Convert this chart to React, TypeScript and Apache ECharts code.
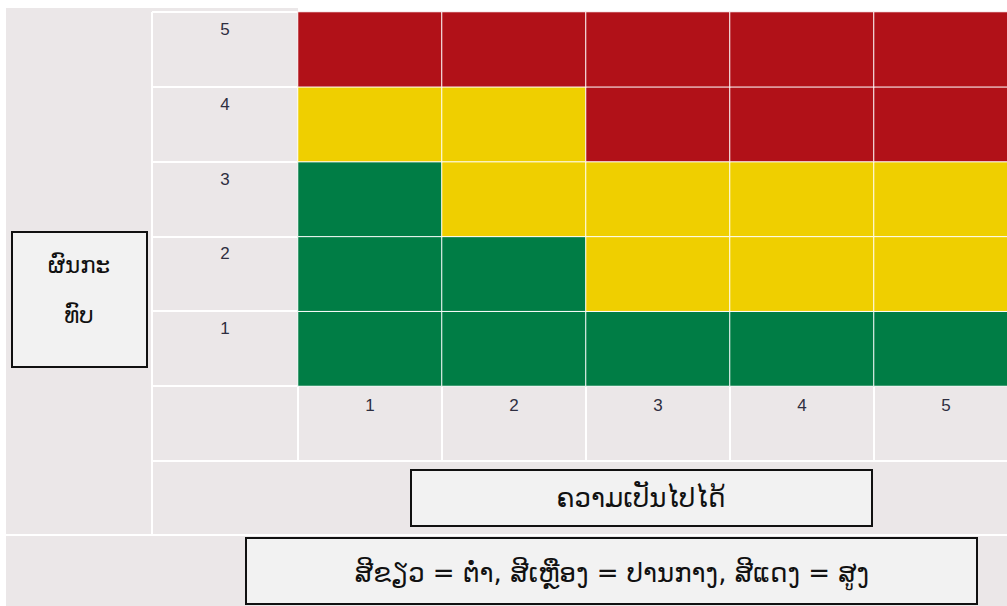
import React, { useEffect, useRef } from "react";
import * as echarts from "echarts";

const likelihoodLabels = ["1", "2", "3", "4", "5"];
const impactLabels = ["1", "2", "3", "4", "5"];
// risk level per impact row (index 0 = impact 1), per likelihood column; 0 low, 1 medium, 2 high
const riskRows: number[][] = [
  [0, 0, 0, 0, 0],
  [0, 0, 1, 1, 1],
  [0, 1, 1, 1, 1],
  [1, 1, 2, 2, 2],
  [2, 2, 2, 2, 2],
];
const levelColors = ["#007d45", "#efcf00", "#b11118"];
const yTitle = "ຜົນກະ\nທົບ";
const xTitle = "ຄວາມເປັນໄປໄດ້";
const legendText = "ສີຂຽວ = ຕ່ຳ, ສີເຫຼືອງ = ປານກາງ, ສີແດງ = ສູງ";

export default function App() {
  const ref = useRef<HTMLDivElement>(null);
  useEffect(() => {
    if (!ref.current) return;
    const chart = echarts.init(ref.current, null, { renderer: "svg" });
    const data: number[][] = [];
    riskRows.forEach((row, yi) => row.forEach((lv, xi) => data.push([xi, yi, lv])));
    const bg = "#ebe7e8";
    const white = "#ffffff";
    const lao = "DejaVu Sans";
    const digitFont = "Arial, Liberation Sans";
    chart.setOption({
      animation: false,
      graphic: [
        { type: "rect", z: -10, shape: { x: 6, y: 8, width: 292, height: 600 }, style: { fill: bg } },
        { type: "rect", z: -10, shape: { x: 298, y: 12, width: 730, height: 600 }, style: { fill: bg } },
        { type: "line", z: 5, shape: { x1: 152, y1: 12, x2: 152, y2: 535 }, style: { stroke: white, lineWidth: 2 } },
        { type: "line", z: 5, shape: { x1: 152, y1: 461, x2: 1025, y2: 461 }, style: { stroke: white, lineWidth: 2 } },
        { type: "line", z: 5, shape: { x1: 6, y1: 535, x2: 1025, y2: 535 }, style: { stroke: white, lineWidth: 2 } },
        {
          type: "rect", z: 10, shape: { x: 12, y: 232, width: 135, height: 135 },
          style: { fill: "#f2f2f2", stroke: "#111", lineWidth: 2 },
        },
        {
          type: "text", z: 11, x: 79, y: 290,
          style: { text: yTitle, fontFamily: lao, fontSize: 23, fill: "#111", align: "center", verticalAlign: "middle", lineHeight: 50 },
        },
        {
          type: "rect", z: 10, shape: { x: 411, y: 470, width: 461, height: 56 },
          style: { fill: "#f2f2f2", stroke: "#111", lineWidth: 2 },
        },
        {
          type: "text", z: 11, x: 641, y: 498,
          style: { text: xTitle, fontFamily: lao, fontSize: 26, fill: "#111", align: "center", verticalAlign: "middle" },
        },
        {
          type: "rect", z: 10, shape: { x: 246, y: 538, width: 731, height: 66 },
          style: { fill: "#f2f2f2", stroke: "#111", lineWidth: 2 },
        },
        {
          type: "text", z: 11, x: 612, y: 573,
          style: { text: legendText, fontFamily: lao, fontSize: 26, fill: "#111", align: "center", verticalAlign: "middle" },
        },
      ],
      grid: { left: 298, top: 12, right: 2, bottom: 220 },
      xAxis: {
        type: "category",
        data: likelihoodLabels,
        axisLine: { show: false },
        axisTick: { show: true, length: 75, lineStyle: { color: white, width: 2 } },
        axisLabel: { color: "#2e2e40", fontSize: 17, fontFamily: digitFont, margin: 11, verticalAlign: "top" },
        splitLine: { show: false },
      },
      yAxis: {
        type: "category",
        data: impactLabels,
        axisLine: { show: false },
        axisTick: { show: true, length: 146, lineStyle: { color: white, width: 2 } },
        axisLabel: {
          color: "#2e2e40", fontSize: 17, fontFamily: digitFont,
          margin: 73, align: "center", verticalAlign: "bottom", lineHeight: 40,
        },
        splitLine: { show: false },
      },
      visualMap: {
        show: false,
        type: "piecewise",
        dimension: 2,
        pieces: levelColors.map((c, i) => ({ value: i, color: c })),
      },
      series: [
        {
          type: "heatmap",
          data,
          itemStyle: { borderColor: white, borderWidth: 1 },
          label: { show: false },
        },
      ],
    });
    return () => chart.dispose();
  }, []);
  return (
    <div style={{ position: "absolute", left: 0, top: 0, width: 1007, height: 606, overflow: "hidden" }}>
      <div ref={ref} style={{ width: 1020, height: 606 }} />
    </div>
  );
}
